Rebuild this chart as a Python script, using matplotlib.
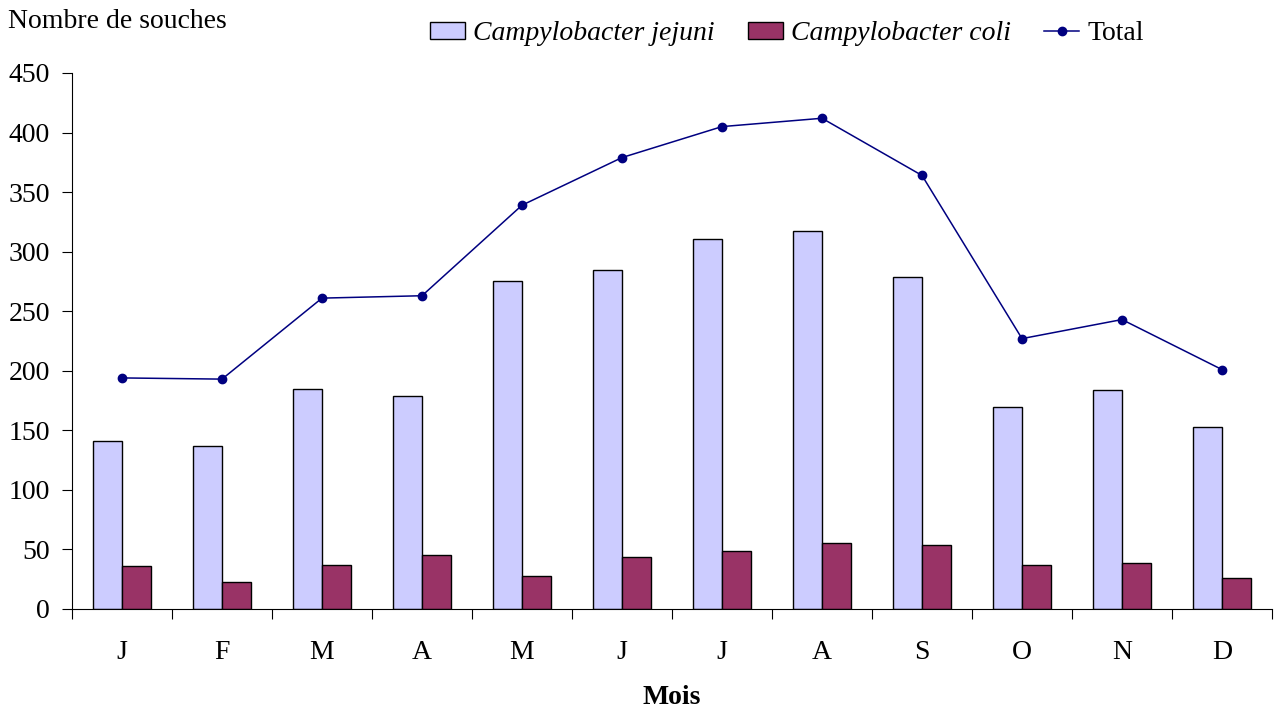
import matplotlib.pyplot as plt
import numpy as np

plt.rcParams['font.family'] = ['Liberation Serif', 'DejaVu Serif']

mois = ["J", "F", "M", "A", "M", "J", "J", "A", "S", "O", "N", "D"]
jejuni = [141, 137, 185, 179, 275, 285, 311, 317, 279, 170, 184, 153]
coli = [36, 23, 37, 45, 28, 44, 49, 55, 54, 37, 39, 26]
total = [194, 193, 261, 263, 339, 379, 405, 412, 364, 227, 243, 201]

fig = plt.figure(figsize=(12.76, 7.09), dpi=100)
ax = fig.add_axes([72/1276, 100/709, 1200/1276, 536/709])

x = np.arange(len(mois))
w = 0.29
b1 = ax.bar(x, jejuni, width=-w, align='edge', color='#CCCCFF', edgecolor='black',
            linewidth=1)
b2 = ax.bar(x, coli, width=w, align='edge', color='#993366', edgecolor='black',
            linewidth=1)
ln, = ax.plot(x, total, color='#000080', marker='o', markersize=6, linewidth=1.1)

ax.set_xlim(-0.5, len(mois) - 0.5)
ax.set_ylim(0, 450)
ax.set_yticks(range(0, 451, 50))
ax.set_xticks(np.arange(-0.5, len(mois), 1))
ax.set_xticklabels([])
ax.set_xticks(x, minor=True)
ax.set_xticklabels(mois, minor=True)
ax.tick_params(axis='x', which='minor', length=0, pad=22, labelsize=20)
ax.tick_params(axis='x', which='major', length=7, direction='out')
ax.tick_params(axis='y', length=7, direction='out', labelsize=20, pad=9)

ax.spines['top'].set_visible(False)
ax.spines['right'].set_visible(False)

fig.text(8/1276, 1 - 22/709, "Nombre de souches", fontsize=20, va='center', ha='left')
fig.text(672/1276, 1 - 697/709, "Mois", fontsize=20, fontweight='bold',
         va='center', ha='center')

leg = fig.legend([b1, b2, ln], ['Campylobacter jejuni', 'Campylobacter coli', 'Total'],
                 loc='center', bbox_to_anchor=(787/1276, 1 - 34/709), ncol=3,
                 frameon=False, fontsize=20, handlelength=1.25, handleheight=0.55,
                 handletextpad=0.3, columnspacing=1.2)
for t in leg.get_texts()[:2]:
    t.set_style('italic')

fig.savefig("out.png", dpi=100)
